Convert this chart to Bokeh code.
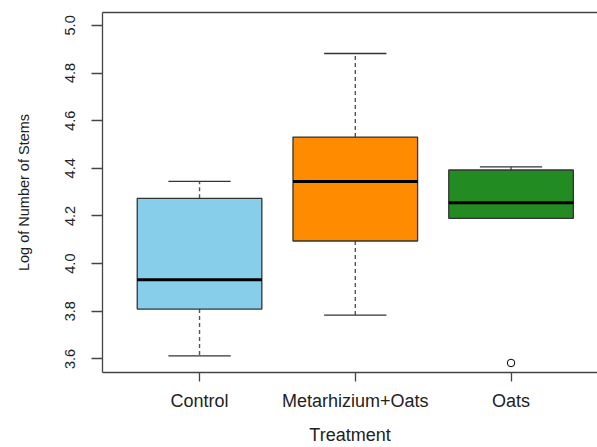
from bokeh.plotting import figure
from bokeh.models import FixedTicker, LinearAxis, Range1d, ColumnDataSource
from bokeh.embed import file_html
from bokeh.resources import INLINE

# Data
categories = ["Control", "Metarhizium+Oats", "Oats"]
positions = [1, 2, 3]
q1 = [3.809, 4.095, 4.190]
median = [3.932, 4.345, 4.255]
q3 = [4.274, 4.531, 4.393]
whisker_low = [3.613, 3.784, 4.190]
whisker_high = [4.345, 4.882, 4.406]
box_colors = ["#87CEEB", "#FF8C00", "#228B22"]
outlier_pos = [3]
outlier_val = [3.583]
y_ticks = [3.6, 3.8, 4.0, 4.2, 4.4, 4.6, 4.8, 5.0]
x_title = "Treatment"
y_title = "Log of Number of Stems"

BOX_W = 0.8
CAP_W = 0.4

p = figure(width=597, height=447, output_backend="svg", toolbar_location=None,
           x_range=Range1d(0.377, 3.555), y_range=Range1d(3.543, 5.054),
           min_border_left=102, min_border_right=0, min_border_top=12,
           min_border_bottom=74, x_axis_location="below", y_axis_location="left")
p.outline_line_color = None
p.grid.visible = False
p.background_fill_color = "white"
p.border_fill_color = "white"

src = ColumnDataSource(dict(
    x=positions, q1=q1, med=median, q3=q3, lo=whisker_low, hi=whisker_high,
    color=box_colors,
    bl=[v - BOX_W / 2 for v in positions], br=[v + BOX_W / 2 for v in positions],
    cl=[v - CAP_W / 2 for v in positions], cr=[v + CAP_W / 2 for v in positions],
))

line_col = "#333333"
# whiskers (dashed)
p.segment(x0="x", y0="q3", x1="x", y1="hi", source=src, line_color="#555555",
          line_width=1.4, line_dash="4 3")
p.segment(x0="x", y0="q1", x1="x", y1="lo", source=src, line_color="#555555",
          line_width=1.4, line_dash="4 3")
# caps
p.segment(x0="cl", y0="hi", x1="cr", y1="hi", source=src, line_color=line_col, line_width=1.3)
p.segment(x0="cl", y0="lo", x1="cr", y1="lo", source=src, line_color=line_col, line_width=1.3)
# boxes
p.vbar(x="x", width=BOX_W, bottom="q1", top="q3", source=src, fill_color="color",
       line_color=line_col, line_width=1.3)
# medians
p.segment(x0="bl", y0="med", x1="br", y1="med", source=src, line_color="black", line_width=3)
# outliers
p.scatter(x=outlier_pos, y=outlier_val, marker="circle", size=7.5, fill_color="white",
          line_color="black", line_width=1)

# axes
xa = p.xaxis[0]
xa.ticker = FixedTicker(ticks=positions)
xa.major_label_overrides = {pos: c for pos, c in zip(positions, categories)}
xa.axis_label = x_title
xa.axis_label_text_font = "Liberation Sans"
xa.axis_label_text_font_style = "normal"
xa.axis_label_text_font_size = "18px"
xa.axis_label_text_color = "#222222"
xa.axis_label_standoff = 11
xa.major_label_text_font = "Liberation Sans"
xa.major_label_text_font_size = "18px"
xa.major_label_text_color = "#222222"
xa.major_label_standoff = 9
xa.major_tick_out = 9
xa.major_tick_in = 0
xa.minor_tick_line_color = None
xa.axis_line_color = "#444444"
xa.axis_line_width = 1.3
xa.major_tick_line_color = "#444444"
xa.major_tick_line_width = 1.3

ya = p.yaxis[0]
ya.ticker = FixedTicker(ticks=y_ticks)
ya.major_label_overrides = {t: f"{t:.1f}" for t in y_ticks}
ya.major_label_orientation = "vertical"
ya.axis_label = y_title
ya.axis_label_text_font = "Liberation Sans"
ya.axis_label_text_font_style = "normal"
ya.axis_label_text_font_size = "14.5px"
ya.axis_label_text_color = "#222222"
ya.axis_label_standoff = 31
ya.major_label_text_font = "Liberation Sans"
ya.major_label_text_font_size = "14.5px"
ya.major_label_text_color = "#222222"
ya.major_label_standoff = 16
ya.major_tick_out = 11
ya.major_tick_in = 0
ya.minor_tick_line_color = None
ya.axis_line_color = "#444444"
ya.axis_line_width = 1.3
ya.major_tick_line_color = "#444444"
ya.major_tick_line_width = 1.3

# top border of the plot box
top = LinearAxis(ticker=FixedTicker(ticks=[]), major_label_text_font_size="0px",
                 axis_line_color="#444444", axis_line_width=1.3,
                 major_tick_line_color=None, minor_tick_line_color=None)
p.add_layout(top, "above")

open("out.html", "w").write(file_html(p, INLINE))
